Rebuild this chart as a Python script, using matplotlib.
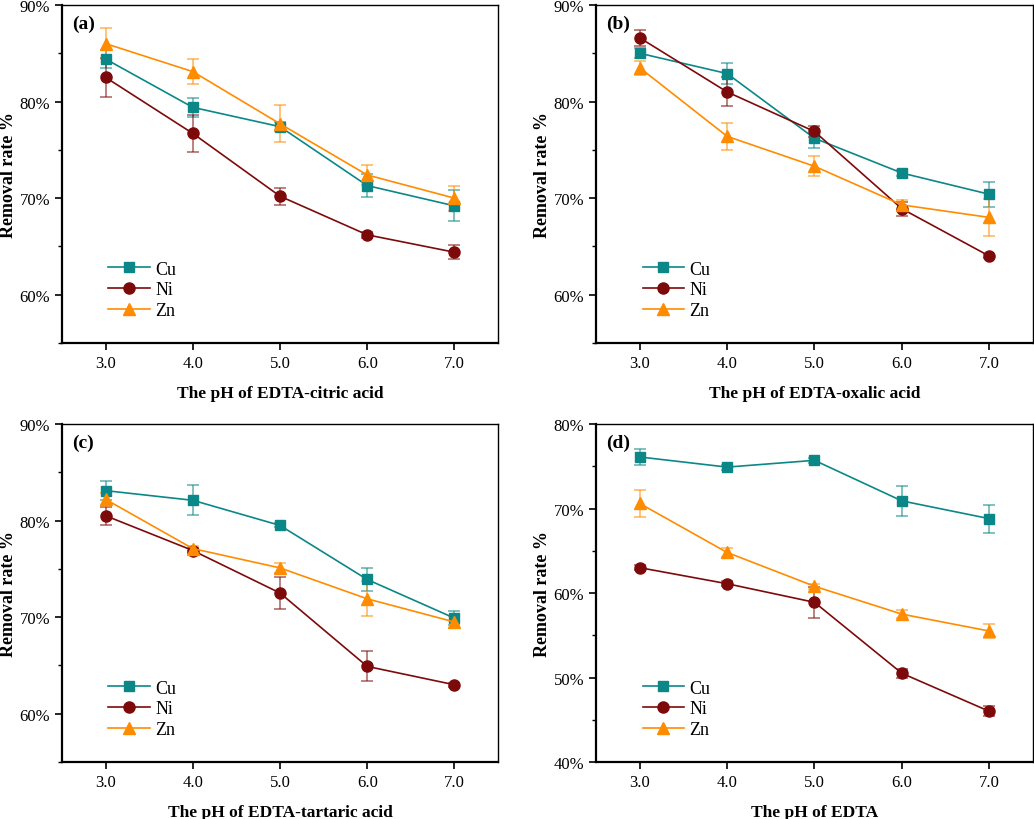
import matplotlib
matplotlib.use('Agg')
import matplotlib.pyplot as plt
from matplotlib.ticker import MultipleLocator, FuncFormatter

plt.rcParams['font.family'] = ['Liberation Serif', 'DejaVu Serif']

ph = [3.0, 4.0, 5.0, 6.0, 7.0]
metals = ['Cu', 'Ni', 'Zn']
colors = {'Cu': '#0b8787', 'Ni': '#7d0a0a', 'Zn': '#ff8c00'}
markers = {'Cu': 's', 'Ni': 'o', 'Zn': '^'}
msizes = {'Cu': 6.5, 'Ni': 8, 'Zn': 9}

# (a) EDTA-citric acid
a_cu = [84.4, 79.4, 77.4, 71.3, 69.2]
a_cu_err = [0.95, 1.0, 0.5, 1.2, 1.6]
a_ni = [82.5, 76.7, 70.2, 66.2, 64.4]
a_ni_err = [2.0, 1.9, 0.9, 0.3, 0.7]
a_zn = [86.0, 83.1, 77.7, 72.4, 70.0]
a_zn_err = [1.6, 1.3, 1.9, 1.0, 1.3]

# (b) EDTA-oxalic acid
b_cu = [85.0, 82.9, 76.2, 72.6, 70.4]
b_cu_err = [0.5, 1.1, 1.0, 0.3, 1.3]
b_ni = [86.6, 81.0, 76.9, 68.9, 64.0]
b_ni_err = [0.8, 1.5, 0.6, 0.7, 0.2]
b_zn = [83.5, 76.4, 73.3, 69.3, 68.0]
b_zn_err = [0.7, 1.4, 1.05, 0.5, 1.9]

# (c) EDTA-tartaric acid
c_cu = [83.1, 82.1, 79.5, 73.9, 69.9]
c_cu_err = [1.0, 1.55, 0.2, 1.15, 0.7]
c_ni = [80.5, 76.9, 72.5, 64.9, 63.0]
c_ni_err = [0.95, 0.3, 1.7, 1.55, 0.2]
c_zn = [82.2, 77.1, 75.1, 71.9, 69.5]
c_zn_err = [0.7, 0.3, 0.5, 1.8, 0.6]

# (d) EDTA
d_cu = [76.1, 74.9, 75.7, 70.9, 68.8]
d_cu_err = [0.9, 0.3, 0.3, 1.8, 1.65]
d_ni = [63.0, 61.1, 58.9, 50.5, 46.0]
d_ni_err = [0.3, 0.3, 1.8, 0.5, 0.6]
d_zn = [70.6, 64.8, 60.8, 57.5, 55.5]
d_zn_err = [1.6, 0.5, 0.3, 0.5, 0.8]

panels = [
    ('(a)', 'The pH of EDTA-citric acid', (55, 90), [a_cu, a_ni, a_zn], [a_cu_err, a_ni_err, a_zn_err]),
    ('(b)', 'The pH of EDTA-oxalic acid', (55, 90), [b_cu, b_ni, b_zn], [b_cu_err, b_ni_err, b_zn_err]),
    ('(c)', 'The pH of EDTA-tartaric acid', (55, 90), [c_cu, c_ni, c_zn], [c_cu_err, c_ni_err, c_zn_err]),
    ('(d)', 'The pH of EDTA', (40, 80), [d_cu, d_ni, d_zn], [d_cu_err, d_ni_err, d_zn_err]),
]

fig = plt.figure(figsize=(10.34, 8.2), dpi=100)
rects = [
    [0.060, 0.5805, 0.4216, 0.4122],
    [0.5764, 0.5805, 0.4226, 0.4122],
    [0.060, 0.0695, 0.4216, 0.4122],
    [0.5764, 0.0695, 0.4226, 0.4122],
]

for rect, (tag, xlabel, ylim, series, errs) in zip(rects, panels):
    ax = fig.add_axes(rect)
    for m, y, e in zip(metals, series, errs):
        ax.errorbar(ph, y, yerr=e, fmt='none', ecolor=colors[m], alpha=0.6,
                    elinewidth=1.2, capsize=4, capthick=1.2, zorder=2)
        ax.plot(ph, y, color=colors[m], marker=markers[m], markersize=msizes[m],
                linewidth=1.2, label=m, zorder=3)
    ax.set_xlim(2.5, 7.5)
    ax.set_ylim(*ylim)
    ax.set_xticks(ph)
    ax.set_xticklabels(['%.1f' % v for v in ph])
    ax.yaxis.set_major_locator(MultipleLocator(10))
    ax.yaxis.set_minor_locator(MultipleLocator(5))
    ax.yaxis.set_major_formatter(FuncFormatter(lambda v, p: '%d%%' % v))
    ax.tick_params(axis='both', which='major', direction='out', length=5, width=1.2, labelsize=12)
    ax.tick_params(axis='y', which='minor', direction='out', length=3, width=1.0)
    ax.spines['left'].set_linewidth(1.6)
    ax.spines['bottom'].set_linewidth(1.6)
    ax.spines['top'].set_linewidth(1.0)
    ax.spines['right'].set_linewidth(1.0)
    ax.set_xlabel(xlabel, fontsize=12.5, fontweight='bold', labelpad=10)
    ax.set_ylabel('Removal rate %', fontsize=13, fontweight='bold', labelpad=2)
    ax.text(0.023, 0.945, tag, transform=ax.transAxes, fontsize=14,
            fontweight='bold', va='center', ha='left')
    ax.legend(loc='lower left', bbox_to_anchor=(0.09, 0.05), frameon=False,
              fontsize=13, handlelength=2.3, handletextpad=0.3, labelspacing=0.2,
              borderaxespad=0)

fig.savefig('out.png', dpi=100)
